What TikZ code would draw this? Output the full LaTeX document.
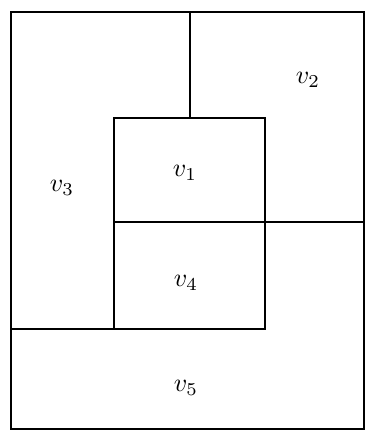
\documentclass[tikz,border=0pt]{standalone}
\newcommand{\bigv}[1]{\scalebox{2.6}{$v_{#1}$}}
\begin{document}
\begin{tikzpicture}[x=1pt,y=-1pt,
  wall/.style={line width=2.1pt,line cap=rect,black},
  lbl/.style={inner sep=0pt}]
\useasboundingbox (0,0) rectangle (366,432);
\coordinate (TL) at (11,12);
\coordinate (BR) at (364,429);
\draw[wall] (TL) rectangle (BR);
\coordinate (a) at (190,12);
\coordinate (b) at (190,118);
\draw[wall] (a) -- (b);
\coordinate (r1) at (114,118);
\coordinate (r2) at (265,329);
\draw[wall] (r1) rectangle (r2);
\coordinate (m1) at (114,222);
\coordinate (m2) at (364,222);
\draw[wall] (m1) -- (m2);
\coordinate (h1) at (11,329);
\coordinate (h2) at (265,329);
\draw[wall] (h1) -- (h2);
\node[lbl] (v1) at (185,173) {\bigv{1}};
\node[lbl] (v2) at (308,80) {\bigv{2}};
\node[lbl] (v3) at (62,188) {\bigv{3}};
\node[lbl] (v4) at (186,283) {\bigv{4}};
\node[lbl] (v5) at (186,388) {\bigv{5}};
\end{tikzpicture}
\end{document}
